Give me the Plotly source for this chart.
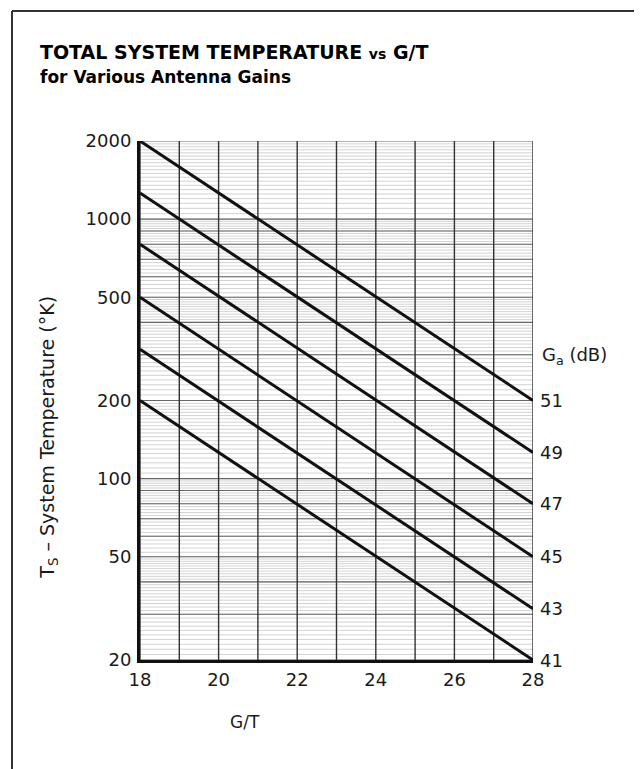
import plotly.graph_objects as go
import numpy as np

# ---- data ----
gain_db = [51, 49, 47, 45, 43, 41]
gt_start = 18
gt_end = 28
ts_at_start = [2000, 1260, 800, 500, 315, 200]   # Ts (K) at G/T = 18
ts_at_end = [200, 126, 80, 50, 31.5, 20]          # Ts (K) at G/T = 28

x_ticks = [18, 20, 22, 24, 26, 28]
y_ticks = [20, 50, 100, 200, 500, 1000, 2000]
x_grid = list(range(18, 29))
y_major_grid = [20, 30, 40, 50, 60, 70, 80, 90, 100, 200, 300, 400, 500, 600, 700, 800, 900, 1000, 2000]
y_fine_grid = (list(range(20, 50, 1)) + list(range(50, 100, 2)) + list(range(100, 200, 5))
               + list(range(200, 500, 10)) + list(range(500, 1000, 20)) + list(range(1000, 2000, 50)))
shade_bands = [(800, 1000), (80, 100), (35, 40)]

FONT = "DejaVu Sans, Arial, sans-serif"
INK = "#1a1a1a"

fig = go.Figure()

def hlines(vals):
    xs, ys = [], []
    for v in vals:
        xs += [gt_start, gt_end, None]
        ys += [v, v, None]
    return xs, ys

# fine horizontal grid
xs, ys = hlines(y_fine_grid)
fig.add_trace(go.Scatter(x=xs, y=ys, mode="lines", line=dict(color="#c0c0c0", width=0.7),
                         hoverinfo="skip", showlegend=False))
# major horizontal grid
xs, ys = hlines(y_major_grid)
fig.add_trace(go.Scatter(x=xs, y=ys, mode="lines", line=dict(color="#666666", width=1.1),
                         hoverinfo="skip", showlegend=False))
# vertical grid
vx, vy = [], []
for g in x_grid:
    vx += [g, g, None]
    vy += [y_ticks[0], y_ticks[-1], None]
fig.add_trace(go.Scatter(x=vx, y=vy, mode="lines", line=dict(color="#333333", width=1.4),
                         hoverinfo="skip", showlegend=False))

# antenna gain lines
for g, a, b in zip(gain_db, ts_at_start, ts_at_end):
    fig.add_trace(go.Scatter(x=[gt_start, gt_end], y=[a, b], mode="lines",
                             line=dict(color="#111111", width=3), cliponaxis=False,
                             name=f"{g} dB", showlegend=False))

shapes = []
for lo, hi in shade_bands:
    shapes.append(dict(type="rect", xref="x", yref="y", x0=gt_start, x1=gt_end,
                       y0=np.log10(lo), y1=np.log10(hi), fillcolor="rgba(0,0,0,0.08)",
                       line=dict(width=0), layer="below"))
# outer frame (top and left edges of the page box)
shapes.append(dict(type="line", xref="paper", yref="paper", x0=-0.3257, x1=1.3, y0=1.2505, y1=1.2505,
                   line=dict(color="#333", width=2)))
shapes.append(dict(type="line", xref="paper", yref="paper", x0=-0.3257, x1=-0.3257, y0=1.2505, y1=-0.3,
                   line=dict(color="#333", width=2)))

annotations = []
for g, b in zip(gain_db, ts_at_end):
    annotations.append(dict(x=gt_end, y=np.log10(b), xref="x", yref="y", text=str(g),
                            showarrow=False, xanchor="left", yanchor="middle", xshift=5,
                            font=dict(family=FONT, size=18, color=INK)))
annotations.append(dict(x=1.018, y=0.5857, xref="paper", yref="paper", text="G<sub>a</sub> (dB)",
                        showarrow=False, xanchor="left", yanchor="middle",
                        font=dict(family=FONT, size=18, color=INK)))
annotations.append(dict(x=-0.232, y=0.43, xref="paper", yref="paper",
                        text="T<sub>S</sub> – System Temperature (°K)", textangle=-90,
                        showarrow=False, xanchor="center", yanchor="middle",
                        font=dict(family=FONT, size=19, color=INK)))
annotations.append(dict(x=0.267, y=-0.12, xref="paper", yref="paper", text="G/T",
                        showarrow=False, xanchor="center", yanchor="middle",
                        font=dict(family=FONT, size=17, color=INK)))
annotations.append(dict(x=-0.2595, y=1.1715, xref="paper", yref="paper",
                        text="<b>TOTAL SYSTEM TEMPERATURE <span style='font-size:14px'>vs</span> G/T</b>",
                        showarrow=False, xanchor="left", yanchor="middle",
                        font=dict(family=FONT, size=19, color="#000")))
annotations.append(dict(x=-0.2595, y=1.1233, xref="paper", yref="paper",
                        text="<b>for Various Antenna Gains</b>",
                        showarrow=False, xanchor="left", yanchor="middle",
                        font=dict(family=FONT, size=17, color="#000")))

fig.update_layout(
    width=634, height=761,
    margin=dict(l=132, r=109, t=133, b=109),
    paper_bgcolor="white", plot_bgcolor="white",
    shapes=shapes, annotations=annotations,
    xaxis=dict(range=[gt_start, gt_end], tickvals=x_ticks, showgrid=False, zeroline=False,
               showline=True, linewidth=3, linecolor="#111", ticks="", ticklabelstandoff=1,
               tickfont=dict(family=FONT, size=18, color=INK)),
    yaxis=dict(type="log", range=[np.log10(20), np.log10(2000)], tickvals=y_ticks,
               ticktext=[str(v) for v in y_ticks], showgrid=False, zeroline=False,
               showline=True, linewidth=3, linecolor="#111", ticks="", ticklabelstandoff=2,
               tickfont=dict(family=FONT, size=18, color=INK)),
)

fig.write_html("out.html")
